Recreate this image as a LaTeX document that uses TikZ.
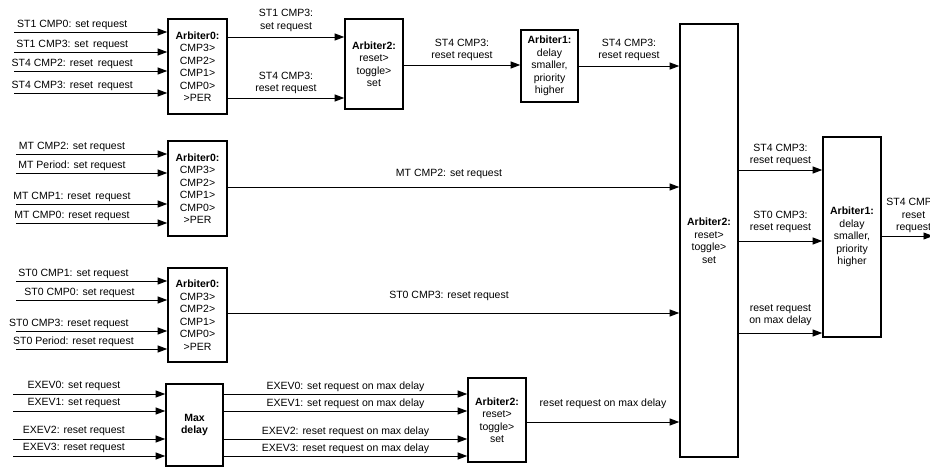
\documentclass[tikz,border=0pt]{standalone}
\usepackage{fontspec}
\setmainfont{Liberation Sans}
\usetikzlibrary{arrows.meta}
\begin{document}
\begin{tikzpicture}[x=1pt,y=-1pt,
  blk/.style={draw, line width=1.6pt, inner sep=0pt, align=center,
    font=\fontsize{10.5}{12.5}\selectfont},
  conn/.style={line width=0.9pt, -{Triangle[length=9.5pt,width=7pt]}},
  lbl/.style={font=\fontsize{10.5}{12.5}\selectfont, inner sep=0pt, align=center, anchor=south}]
\useasboundingbox (0,0) rectangle (930,468);

% ---------- blocks ----------
\node[blk, minimum width=59pt, minimum height=95pt] (a0t) at (197.5,66.5)
  {\textbf{Arbiter0:}\\CMP3>\\CMP2>\\CMP1>\\CMP0>\\>PER};
\node[blk, minimum width=58pt, minimum height=90pt] (a2t) at (374,64)
  {\textbf{Arbiter2:}\\reset>\\toggle>\\set};
\node[blk, minimum width=57pt, minimum height=72pt] (a1t) at (549.5,66)
  {\textbf{Arbiter1:}\\delay\\smaller,\\priority\\higher};
\node[blk, minimum width=58pt, minimum height=433pt] (A2) at (709,240.5)
  {\textbf{Arbiter2:}\\reset>\\toggle>\\set};
\node[blk, minimum width=58pt, minimum height=200pt] (A1) at (852,237)
  {\textbf{Arbiter1:}\\delay\\smaller,\\priority\\higher};
\node[blk, minimum width=59pt, minimum height=95pt] (a0m) at (197.5,188.5)
  {\textbf{Arbiter0:}\\CMP3>\\CMP2>\\CMP1>\\CMP0>\\>PER};
\node[blk, minimum width=59pt, minimum height=94pt] (a0s) at (197.5,315)
  {\textbf{Arbiter0:}\\CMP3>\\CMP2>\\CMP1>\\CMP0>\\>PER};
\node[blk, minimum width=57pt, minimum height=82pt] (md) at (194.5,425)
  {\textbf{Max}\\\textbf{delay}};
\node[blk, minimum width=58pt, minimum height=84pt] (a2b) at (497,420)
  {\textbf{Arbiter2:}\\reset>\\toggle>\\set};

% ---------- input start points ----------
\coordinate (t1) at (14,32);  \coordinate (t2) at (14,52);
\coordinate (t3) at (14,71);  \coordinate (t4) at (14,93);
\coordinate (m1) at (16,154); \coordinate (m2) at (16,173);
\coordinate (m3) at (16,204); \coordinate (m4) at (16,223);
\coordinate (s1) at (16,281); \coordinate (s2) at (16,300);
\coordinate (s3) at (16,331); \coordinate (s4) at (16,349);
\coordinate (e1) at (13,394); \coordinate (e2) at (13,411);
\coordinate (e3) at (13,439); \coordinate (e4) at (13,456);

% ---------- row levels ----------
\coordinate (y37) at (0,37);   \coordinate (y98) at (0,98);
\coordinate (y65) at (0,65);   \coordinate (y66) at (0,66);
\coordinate (y187) at (0,187); \coordinate (y313) at (0,313);
\coordinate (y422) at (0,422);
\coordinate (y170) at (0,170); \coordinate (y241) at (0,241);
\coordinate (y333) at (0,333);
\coordinate (oend) at (933,236);

% ---------- top group inputs ----------
\draw[conn] (t1) -- node[lbl, pos=0.38, above=2pt] {ST1 CMP0: set request} (t1 -| a0t.west);
\draw[conn] (t2) -- node[lbl, pos=0.38, above=2pt] {ST1 CMP3: set\ \,request} (t2 -| a0t.west);
\draw[conn] (t3) -- node[lbl, pos=0.38, above=2pt] {ST4 CMP2: reset\ \,request} (t3 -| a0t.west);
\draw[conn] (t4) -- node[lbl, pos=0.38, above=2pt] {ST4 CMP3: reset\ \,request} (t4 -| a0t.west);

% ---------- MT group inputs ----------
\draw[conn] (m1) -- node[lbl, pos=0.37, above=2pt] {MT CMP2: set request} (m1 -| a0m.west);
\draw[conn] (m2) -- node[lbl, pos=0.37, above=2pt] {MT Period: set request} (m2 -| a0m.west);
\draw[conn] (m3) -- node[lbl, pos=0.37, above=2pt] {MT CMP1: reset\ \,request} (m3 -| a0m.west);
\draw[conn] (m4) -- node[lbl, pos=0.37, above=2pt] {MT CMP0: reset request} (m4 -| a0m.west);

% ---------- ST0 group inputs ----------
\draw[conn] (s1) -- node[lbl, pos=0.38, above=2pt] {ST0 CMP1: set request} (s1 -| a0s.west);
\draw[conn] (s2) -- node[lbl, pos=0.42, above=2pt] {ST0 CMP0: set request} (s2 -| a0s.west);
\draw[conn] (s3) -- node[lbl, pos=0.35, above=2pt] {ST0 CMP3: reset request} (s3 -| a0s.west);
\draw[conn] (s4) -- node[lbl, pos=0.38, above=2pt] {ST0 Period: reset request} (s4 -| a0s.west);

% ---------- EXEV inputs ----------
\draw[conn] (e1) -- node[lbl, pos=0.4, above=2.5pt] {EXEV0: set request} (e1 -| md.west);
\draw[conn] (e2) -- node[lbl, pos=0.4, above=2.5pt] {EXEV1: set request} (e2 -| md.west);
\draw[conn] (e3) -- node[lbl, pos=0.4, above=2.5pt] {EXEV2: reset request} (e3 -| md.west);
\draw[conn] (e4) -- node[lbl, pos=0.4, above=2.5pt] {EXEV3: reset request} (e4 -| md.west);

% ---------- max delay outputs ----------
\draw[conn] (md.east |- e1) -- node[lbl, above=2pt] {EXEV0: set request on max delay} (a2b.west |- e1);
\draw[conn] (md.east |- e2) -- node[lbl, above=2pt] {EXEV1: set request on max delay} (a2b.west |- e2);
\draw[conn] (md.east |- e3) -- node[lbl, above=2pt] {EXEV2: reset request on max delay} (a2b.west |- e3);
\draw[conn] (md.east |- e4) -- node[lbl, above=2pt] {EXEV3: reset request on max delay} (a2b.west |- e4);

% ---------- top chain ----------
\draw[conn] (a0t.east |- y37) -- node[lbl, above=5pt] {ST1 CMP3:\\set request} (a2t.west |- y37);
\draw[conn] (a0t.east |- y98) -- node[lbl, above=3.5pt] {ST4 CMP3:\\reset request} (a2t.west |- y98);
\draw[conn] (a2t.east |- y65) -- node[lbl, above=3.5pt] {ST4 CMP3:\\reset request} (a1t.west |- y65);
\draw[conn] (a1t.east |- y66) -- node[lbl, above=4.5pt] {ST4 CMP3:\\reset request} (A2.west |- y66);

% ---------- long lines to big Arbiter2 ----------
\draw[conn] (a0m.east |- y187) -- node[lbl, pos=0.49, above=7.5pt] {MT CMP2: set request} (A2.west |- y187);
\draw[conn] (a0s.east |- y313) -- node[lbl, pos=0.49, above=11.5pt] {ST0 CMP3: reset request} (A2.west |- y313);
\draw[conn] (a2b.east |- y422) -- node[lbl, above=12.5pt] {reset request on max delay} (A2.west |- y422);

% ---------- big Arbiter2 to right Arbiter1 ----------
\draw[conn] (A2.east |- y170) -- node[lbl, above=3.5pt] {ST4 CMP3:\\reset request} (A1.west |- y170);
\draw[conn] (A2.east |- y241) -- node[lbl, above=7.5pt] {ST0 CMP3:\\reset request} (A1.west |- y241);
\draw[conn] (A2.east |- y333) -- node[lbl, above=6.5pt] {reset request\\on max delay} (A1.west |- y333);

% ---------- final output ----------
\draw[conn] (A1.east |- oend) -- node[lbl, pos=0.62, above=2.5pt] {ST4 CMP3:\\reset\\request} (oend);
\end{tikzpicture}
\end{document}
